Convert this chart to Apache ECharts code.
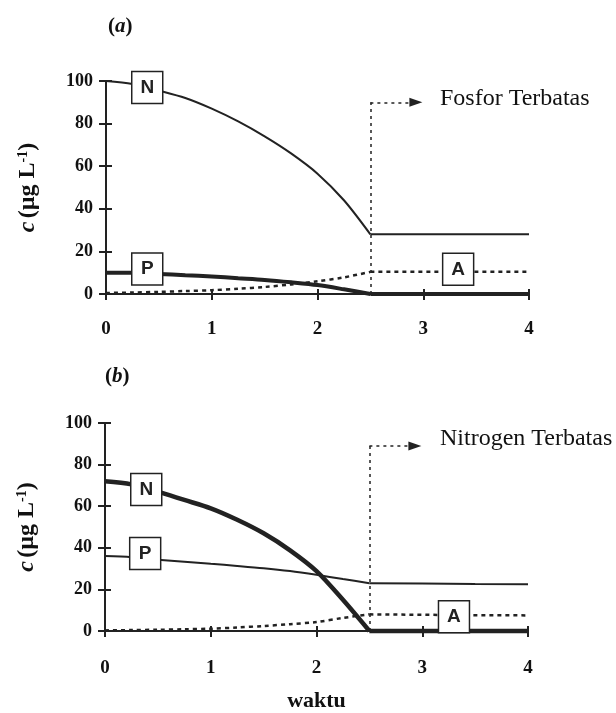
<!DOCTYPE html>
<html>
<head>
<meta charset="utf-8">
<script src="https://cdn.jsdelivr.net/npm/echarts@6/dist/echarts.min.js"></script>
<style>
  html, body { margin: 0; padding: 0; background: #fff; }
  #chart { width: 616px; height: 713px; }
</style>
</head>
<body>
<div id="chart"></div>
<script>
// ---------- data ----------
const times = [0, 0.25, 0.5, 0.75, 1, 1.25, 1.5, 1.75, 2, 2.25, 2.5, 3, 3.5, 4];

// Panel (a): Fosfor terbatas
const nA = [100, 98.6, 95.5, 92, 87, 81, 74, 66, 56.5, 44, 28, 28, 28, 28];
const pA = [10, 10, 9.4, 8.8, 8.2, 7.4, 6.6, 5.5, 4.2, 2.2, 0, 0, 0, 0];
const aA = [0.5, 0.7, 1, 1.4, 1.8, 2.5, 3.3, 4.5, 6, 7.8, 10.4, 10.4, 10.4, 10.4];

// Panel (b): Nitrogen terbatas
const nB = [72, 70.5, 67, 63, 59, 53.5, 47, 38.8, 28.8, 15, 0, 0, 0, 0];
const pB = [36, 35.5, 34.3, 33.3, 32.3, 31.3, 30.2, 28.8, 27, 25, 23, 22.8, 22.6, 22.5];
const aB = [0.3, 0.45, 0.6, 0.85, 1.1, 1.7, 2.4, 3.3, 4.3, 6.3, 8, 7.8, 7.6, 7.5];

// limiting-point marker (time, arrow height per panel, arrow end)
const limitTime = 2.5;
const arrowLevel = [90, 89];
const arrowEnd = 2.93;

// label boxes [t, value]
const boxesA = { N: [0.39, 97], P: [0.39, 11.7], A: [3.33, 11.6] };
const boxesB = { N: [0.39, 68], P: [0.38, 37.3], A: [3.3, 6.8] };

const xTicks = [0, 1, 2, 3, 4];
const yTicks = [0, 20, 40, 60, 80, 100];
const panelLabels = ['a', 'b'];
const limitTexts = ['Fosfor Terbatas', 'Nitrogen Terbatas'];
const xName = 'waktu';

// ---------- style ----------
const SERIF = '"Liberation Serif","Times New Roman",serif';
const SANS = '"Liberation Sans",Arial,sans-serif';
const INK = '#222';
const kIdx = times.indexOf(limitTime);

function pairs(vals, from, to) {
  const out = [];
  for (let i = from; i <= to; i++) out.push([times[i], vals[i]]);
  return out;
}

function box(letter, coord) {
  return {
    coord: coord,
    value: letter,
    symbol: 'rect',
    symbolSize: [31, 32],
    itemStyle: { color: '#fff', borderColor: INK, borderWidth: 1.5 },
    label: {
      show: true, position: 'inside', formatter: letter,
      color: INK, fontFamily: SANS, fontWeight: 'bold', fontSize: 19
    }
  };
}

function baseSeries(gi, data, width, dotted, smooth) {
  return {
    type: 'line',
    xAxisIndex: gi * 2,
    yAxisIndex: gi * 2,
    data: data,
    showSymbol: false,
    symbol: 'none',
    clip: false,
    animation: false,
    smooth: smooth,
    lineStyle: { color: INK, width: width, type: dotted ? [4, 4] : 'solid' }
  };
}

// each curve: smooth part before the limiting time, straight part after it
function curve(gi, vals, width, dotted, boxLetter, boxCoord, extra) {
  const before = baseSeries(gi, pairs(vals, 0, kIdx), width, dotted, 0.3);
  before.markPoint = { silent: true, animation: false, data: [box(boxLetter, boxCoord)] };
  Object.assign(before, extra || {});
  const after = baseSeries(gi, pairs(vals, kIdx, times.length - 1), width, dotted, false);
  return [before, after];
}

function marker(gi) {
  const dot = { color: INK, width: 1.5, type: [3, 4] };
  return {
    markLine: {
      silent: true,
      animation: false,
      symbol: ['none', 'none'],
      label: { show: false },
      lineStyle: dot,
      data: [
        [{ coord: [limitTime, 0], symbol: 'none' }, { coord: [limitTime, arrowLevel[gi]], symbol: 'none' }],
        [{ coord: [limitTime, arrowLevel[gi]], symbol: 'none' },
         { coord: [arrowEnd, arrowLevel[gi]], symbol: 'triangle', symbolSize: [9, 13], symbolRotate: -90 }]
      ]
    }
  };
}

const grids = [
  { left: 106, right: 87, top: 81, height: 213 },
  { left: 105, right: 88, top: 423, height: 210 }
];
const labelMargins = [26, 28];

const xAxes = [], yAxes = [];
grids.forEach((g, gi) => {
  const common = { type: 'value', gridIndex: gi, min: 0, max: 4, interval: 1, splitLine: { show: false } };
  xAxes.push(Object.assign({}, common, {
    axisLine: { onZero: false, lineStyle: { color: INK, width: 2 } },
    axisTick: { length: 6, lineStyle: { color: INK, width: 2 } },
    axisLabel: {
      margin: labelMargins[gi], color: '#111', fontFamily: SERIF, fontWeight: 'bold', fontSize: 19,
      formatter: v => (xTicks.indexOf(v) >= 0 ? String(v) : '')
    },
    name: gi === 1 ? xName : '',
    nameLocation: 'middle',
    nameGap: 59,
    nameTextStyle: { color: '#111', fontFamily: SERIF, fontWeight: 'bold', fontSize: 22 }
  }));
  xAxes.push(Object.assign({}, common, {
    position: 'bottom', offset: 0,
    axisLine: { show: false, onZero: false },
    axisTick: { inside: true, length: 5, lineStyle: { color: INK, width: 2 } },
    axisLabel: { show: false }
  }));
  const yc = { type: 'value', gridIndex: gi, min: 0, max: 100, interval: 20, splitLine: { show: false } };
  yAxes.push(Object.assign({}, yc, {
    axisLine: { show: true, onZero: false, lineStyle: { color: INK, width: 2 } },
    axisTick: { show: true, length: 7, lineStyle: { color: INK, width: 2 } },
    axisLabel: {
      margin: 13, color: '#111', fontFamily: SERIF, fontWeight: 'bold', fontSize: 18,
      formatter: v => (yTicks.indexOf(v) >= 0 ? String(v) : '')
    },
    name: '{i|c} {n|(µg L}{s|-1}{n|)}',
    nameLocation: 'middle',
    nameRotate: 90,
    nameGap: 66,
    nameTextStyle: {
      color: '#111',
      rich: {
        i: { fontFamily: SERIF, fontStyle: 'italic', fontWeight: 'bold', fontSize: 24, color: '#111' },
        n: { fontFamily: SERIF, fontWeight: 'bold', fontSize: 24, color: '#111' },
        s: { fontFamily: SERIF, fontWeight: 'bold', fontSize: 14, color: '#111', verticalAlign: 'top', padding: [0, 0, 10, 0] }
      }
    }
  }));
  yAxes.push(Object.assign({}, yc, {
    position: 'left', offset: 0,
    axisLine: { show: false, onZero: false },
    axisTick: { show: true, inside: true, length: 6, lineStyle: { color: INK, width: 2 } },
    axisLabel: { show: false }
  }));
});

const series = [].concat(
  // panel (a)
  curve(0, nA, 2, false, 'N', boxesA.N),
  curve(0, pA, 4, false, 'P', boxesA.P),
  curve(0, aA, 2.5, true, 'A', boxesA.A, marker(0)),
  // panel (b)
  curve(1, pB, 2, false, 'P', boxesB.P),
  curve(1, nB, 4.5, false, 'N', boxesB.N),
  curve(1, aB, 2.5, true, 'A', boxesB.A, marker(1))
);

const panelText = (i, left, top) => ({
  type: 'text', left: left, top: top, style: {
    text: '({i|' + panelLabels[i] + '})', fill: '#111',
    font: 'bold 21px ' + SERIF,
    rich: { i: { fontFamily: SERIF, fontStyle: 'italic', fontWeight: 'bold', fontSize: 21, fill: '#111' } }
  }
});

const graphic = [
  panelText(0, 108, 16),
  panelText(1, 105, 366),
  { type: 'text', left: 440, top: 87, style: { text: limitTexts[0], fill: '#111', font: '24px ' + SERIF } },
  { type: 'text', left: 440, top: 427, style: { text: limitTexts[1], fill: '#111', font: '24px ' + SERIF } }
];

const chart = echarts.init(document.getElementById('chart'), null, { renderer: 'canvas' });
chart.setOption({
  backgroundColor: '#fff',
  animation: false,
  grid: grids,
  xAxis: xAxes,
  yAxis: yAxes,
  series: series,
  graphic: graphic
});
</script>
</body>
</html>
